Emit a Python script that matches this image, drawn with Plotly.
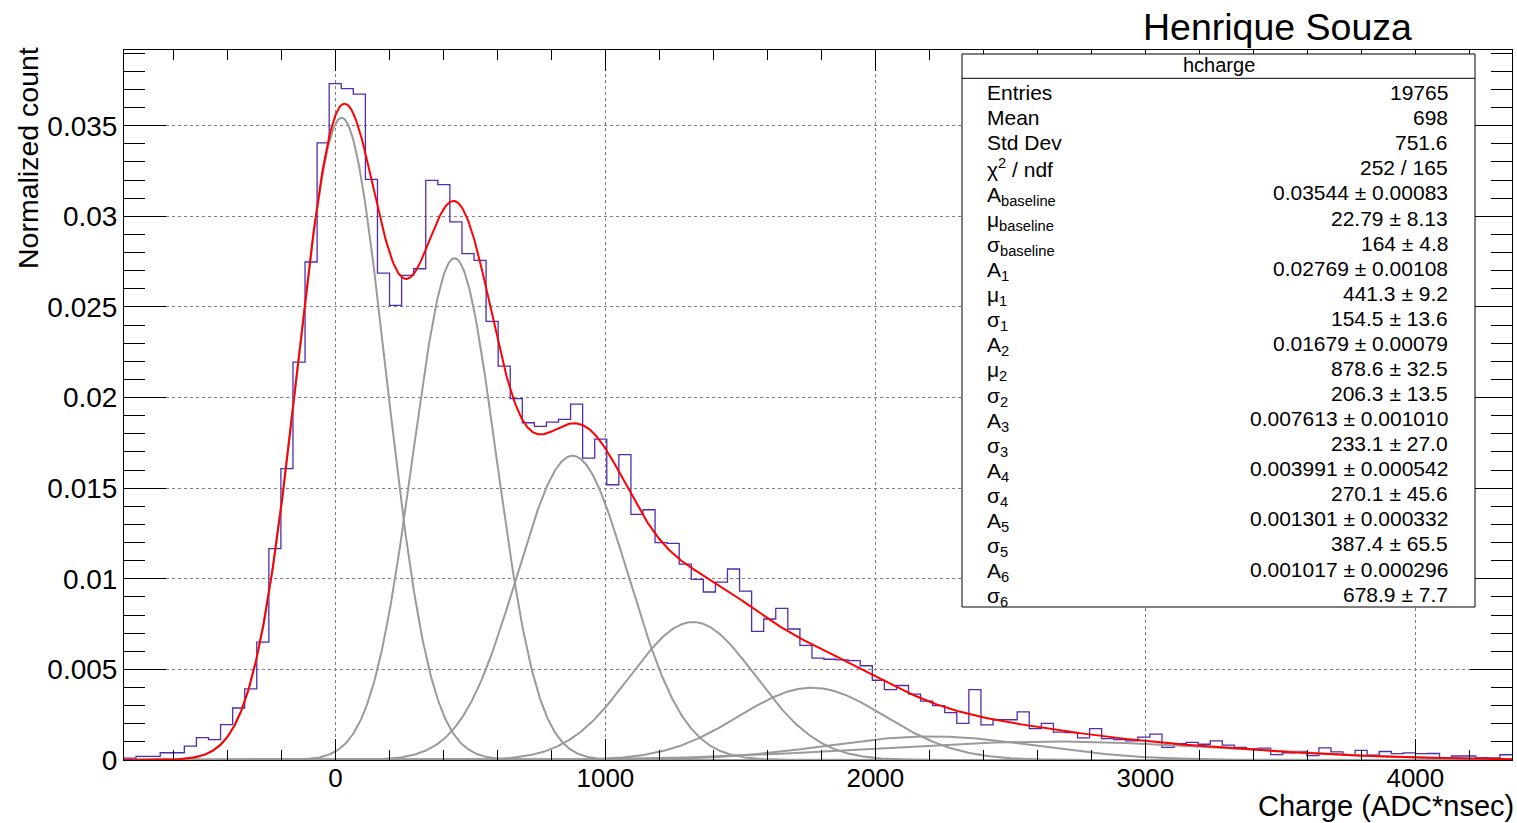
import numpy as np
import plotly.graph_objects as go

# ---------------- data ----------------
X_MIN, X_MAX, N_BINS = -783.0, 4358.0, 115
bin_values = [
    0.00010, 0.00020, 0.00020, 0.00040, 0.00040, 0.00077, 0.00123, 0.00112, 0.00195, 0.00287,
    0.00393, 0.00650, 0.01166, 0.01608, 0.02196, 0.02748, 0.03405, 0.03732, 0.03705, 0.03675,
    0.03204, 0.02687, 0.02509, 0.02674, 0.02711, 0.03199, 0.03175, 0.02969, 0.02794, 0.02757,
    0.02420, 0.02174, 0.01994, 0.01861, 0.01841, 0.01865, 0.01880, 0.01964, 0.01666, 0.01771,
    0.01519, 0.01685, 0.01355, 0.01381, 0.01199, 0.01195, 0.01081, 0.00997, 0.00927, 0.00982,
    0.01054, 0.00932, 0.00710, 0.00778, 0.00837, 0.00723, 0.00632, 0.00562, 0.00556, 0.00553,
    0.00548, 0.00520, 0.00440, 0.00388, 0.00411, 0.00364, 0.00325, 0.00300, 0.00261, 0.00202,
    0.00388, 0.00194, 0.00222, 0.00222, 0.00266, 0.00173, 0.00202, 0.00154, 0.00151, 0.00122,
    0.00173, 0.00118, 0.00113, 0.00106, 0.00126, 0.00143, 0.00070, 0.00090, 0.00097, 0.00087,
    0.00106, 0.00082, 0.00070, 0.00062, 0.00066, 0.00030, 0.00040, 0.00047, 0.00024, 0.00067,
    0.00045, 0.00027, 0.00053, 0.00027, 0.00047, 0.00035, 0.00039, 0.00035, 0.00036, 0.00013,
    0.00022, 0.00022, 0.00013, 0.00011, 0.00029,
]

# fitted gaussian components: baseline, 1..6 photo-electron peaks
comp_amp = [0.03544, 0.02769, 0.01679, 0.007613, 0.003991, 0.001301, 0.001017]
comp_mu = [22.79, 441.3, 878.6, 1324.0, 1765.0, 2206.0, 2648.0]
comp_sigma = [164.0, 154.5, 206.3, 233.1, 270.1, 387.4, 678.9]

x_tickvals = [0, 1000, 2000, 3000, 4000]
x_ticktext = ["0", "1000", "2000", "3000", "4000"]
y_tickvals = [0, 0.005, 0.01, 0.015, 0.02, 0.025, 0.03, 0.035]
y_ticktext = ["0", "0.005", "0.01", "0.015", "0.02", "0.025", "0.03", "0.035"]

stats_title = "hcharge"
stat_labels = [
    "Entries", "Mean", "Std Dev", "χ<sup>2</sup> / ndf",
    "A<sub>baseline</sub>", "μ<sub>baseline</sub>", "σ<sub>baseline</sub>",
    "A<sub>1</sub>", "μ<sub>1</sub>", "σ<sub>1</sub>",
    "A<sub>2</sub>", "μ<sub>2</sub>", "σ<sub>2</sub>",
    "A<sub>3</sub>", "σ<sub>3</sub>",
    "A<sub>4</sub>", "σ<sub>4</sub>",
    "A<sub>5</sub>", "σ<sub>5</sub>",
    "A<sub>6</sub>", "σ<sub>6</sub>",
]
stat_values = [
    "19765", "698", "751.6", "252 / 165",
    "0.03544 ± 0.00083", "22.79 ± 8.13", "164 ± 4.8",
    "0.02769 ± 0.00108", "441.3 ± 9.2", "154.5 ± 13.6",
    "0.01679 ± 0.00079", "878.6 ± 32.5", "206.3 ± 13.5",
    "0.007613 ± 0.001010", "233.1 ± 27.0",
    "0.003991 ± 0.000542", "270.1 ± 45.6",
    "0.001301 ± 0.000332", "387.4 ± 65.5",
    "0.001017 ± 0.000296", "678.9 ± 7.7",
]

# ---------------- layout constants ----------------
W, H = 1517, 823
ML, MR, MT, MB = 124, 5, 50, 63
PW, PH = W - ML - MR, H - MT - MB
Y_MAX = 0.03918
FONT = "Liberation Sans, Arial, Helvetica, sans-serif"


def px_x(p):
    return (p - ML) / PW


def px_y(p):
    return (H - MB - p) / PH


# ---------------- traces ----------------
edges = np.linspace(X_MIN, X_MAX, N_BINS + 1)
hx = list(edges[:-1]) + [edges[-1]]
hy = list(bin_values) + [bin_values[-1]]

fig = go.Figure()
fig.add_trace(go.Scatter(x=hx, y=hy, mode="lines", line=dict(shape="hv", color="#4f2db0", width=1.3),
                         showlegend=False, hoverinfo="skip"))

xf = np.linspace(X_MIN, X_MAX, 1500)
total = np.zeros_like(xf)
for a, m, s in zip(comp_amp, comp_mu, comp_sigma):
    g = a * np.exp(-0.5 * ((xf - m) / s) ** 2)
    total += g
    fig.add_trace(go.Scatter(x=xf, y=g, mode="lines", line=dict(color="#9a9a9a", width=2),
                             showlegend=False, hoverinfo="skip"))
fig.add_trace(go.Scatter(x=xf, y=total, mode="lines", line=dict(color="#ff0000", width=2),
                         showlegend=False, hoverinfo="skip"))

# ---------------- axes ----------------
axis_common = dict(
    showline=True, linecolor="black", linewidth=1, mirror="ticks",
    ticks="inside", tickcolor="black", tickwidth=1,
    showgrid=True, gridcolor="#808080", griddash="dot", gridwidth=1,
    zeroline=False,
)
fig.update_xaxes(range=[X_MIN, X_MAX], tickvals=x_tickvals, ticktext=x_ticktext, ticklen=21,
                 tickfont=dict(family=FONT, size=26, color="black"), ticklabelstandoff=-5,
                 minor=dict(ticks="inside", ticklen=10, dtick=200, tick0=0, tickcolor="black", showgrid=False),
                 **axis_common)
fig.update_yaxes(range=[0, Y_MAX], tickvals=y_tickvals, ticktext=y_ticktext, ticklen=42,
                 tickfont=dict(family=FONT, size=28, color="black"),
                 minor=dict(ticks="inside", ticklen=21, dtick=0.001, tick0=0, tickcolor="black", showgrid=False),
                 **axis_common)

# ---------------- annotations & stats box ----------------
ann = []
shapes = []
ann.append(dict(text="Henrique Souza", x=px_x(1277), y=px_y(27), xref="paper", yref="paper",
                showarrow=False, xanchor="center", yanchor="middle",
                font=dict(family=FONT, size=37.5, color="black")))
ann.append(dict(text="Normalized count", x=px_x(28), y=1.0, yshift=5, xref="paper", yref="paper",
                showarrow=False, xanchor="center", yanchor="top", textangle=-90,
                font=dict(family=FONT, size=28.5, color="black")))
ann.append(dict(text="Charge (ADC*nsec)", x=1.0, y=px_y(806), xshift=4, xref="paper", yref="paper",
                showarrow=False, xanchor="right", yanchor="middle",
                font=dict(family=FONT, size=29, color="black")))

BOX_L, BOX_R, BOX_T, BOX_B = 962, 1475, 54, 607
shapes.append(dict(type="rect", xref="paper", yref="paper", x0=px_x(BOX_L), x1=px_x(BOX_R),
                   y0=px_y(BOX_B), y1=px_y(BOX_T), line=dict(color="black", width=1),
                   fillcolor="white", layer="above"))
shapes.append(dict(type="line", xref="paper", yref="paper", x0=px_x(BOX_L), x1=px_x(BOX_R),
                   y0=px_y(78.3), y1=px_y(78.3), line=dict(color="black", width=1), layer="above"))
ann.append(dict(text=stats_title, x=px_x((BOX_L + BOX_R) / 2), y=px_y(65.5), xref="paper", yref="paper",
                showarrow=False, xanchor="center", yanchor="middle",
                font=dict(family=FONT, size=20, color="black")))
for i, (lab, val) in enumerate(zip(stat_labels, stat_values)):
    yc = 92.7 + 25.07 * i
    off = 3 if "<sub>" in lab else 0
    ann.append(dict(text=lab, x=px_x(985), y=px_y(yc + off), xref="paper", yref="paper",
                    showarrow=False, xanchor="left", yanchor="middle",
                    font=dict(family=FONT, size=21, color="black")))
    ann.append(dict(text=val, x=px_x(1450), y=px_y(yc), xref="paper", yref="paper",
                    showarrow=False, xanchor="right", yanchor="middle",
                    font=dict(family=FONT, size=21, color="black")))

fig.update_layout(
    width=W, height=H, autosize=False,
    margin=dict(l=ML, r=MR, t=MT, b=MB, pad=0),
    paper_bgcolor="white", plot_bgcolor="white",
    annotations=ann, shapes=shapes, showlegend=False,
    font=dict(family=FONT, color="black"),
)

fig.write_html("out.html", config={"displayModeBar": False},
               post_script="document.body.style.margin='0';")
